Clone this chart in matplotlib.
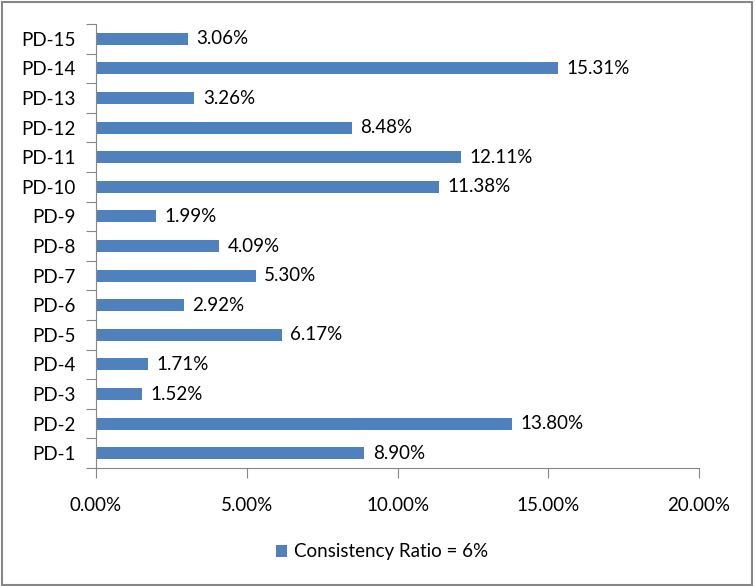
import matplotlib.pyplot as plt
from matplotlib.patches import Rectangle
from matplotlib.ticker import FuncFormatter

# Datos
categorias = ['PD-1', 'PD-2', 'PD-3', 'PD-4', 'PD-5', 'PD-6', 'PD-7', 'PD-8',
              'PD-9', 'PD-10', 'PD-11', 'PD-12', 'PD-13', 'PD-14', 'PD-15']
valores = [8.90, 13.80, 1.52, 1.71, 6.17, 2.92, 5.30, 4.09,
           1.99, 11.38, 12.11, 8.48, 3.26, 15.31, 3.06]
serie = 'Consistency Ratio = 6%'

plt.rcParams['font.family'] = ['Lato', 'DejaVu Sans']
color_barra = '#4F81BD'
gris = '#868686'
fs = 13.5

fig = plt.figure(figsize=(7.55, 5.86), dpi=100)
ax = fig.add_axes([96 / 755, 1 - 468 / 586, 603 / 755, 444 / 586])

pos = range(len(categorias))
barras = ax.barh(pos, valores, height=0.4, color=color_barra, label=serie)
for y, v in zip(pos, valores):
    ax.text(v + 0.28, y, f'{v:.2f}%', va='center', ha='left', fontsize=fs)

ax.set_xlim(0, 20)
ax.set_ylim(-0.5, len(categorias) - 0.5)
ax.set_xticks([0, 5, 10, 15, 20])
ax.xaxis.set_major_formatter(FuncFormatter(lambda x, p: f'{x:.2f}%'))
ax.set_yticks([i - 0.5 for i in range(len(categorias) + 1)], minor=False)
ax.set_yticklabels([])
ax.set_yticks(list(pos), minor=True)
ax.set_yticklabels(categorias, minor=True)
ax.tick_params(axis='y', which='minor', length=0, labelsize=fs, pad=14.5)
ax.tick_params(axis='y', which='major', length=7, color=gris)
ax.tick_params(axis='x', length=7, color=gris, labelsize=fs, pad=14)

for lado in ['top', 'right']:
    ax.spines[lado].set_visible(False)
for lado in ['left', 'bottom']:
    ax.spines[lado].set_color(gris)

fig.legend(handles=[barras], labels=[serie], loc='center', bbox_to_anchor=(382 / 755, 1 - 552 / 586),
           frameon=False, fontsize=fs, handlelength=0.6, handleheight=0.6, handletextpad=0.35)

# Borde exterior
fig.patches.append(Rectangle((0.002, 0.002), 0.994, 0.995, transform=fig.transFigure,
                             fill=False, edgecolor=gris, linewidth=1.5))

plt.savefig('out.png', dpi=100)
